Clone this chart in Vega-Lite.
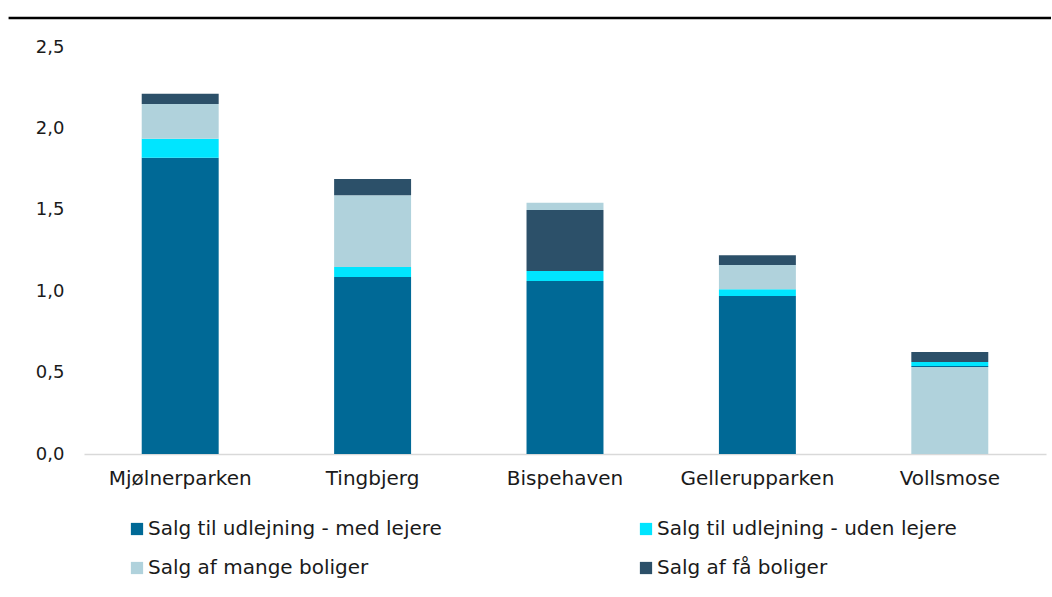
{
  "$schema": "https://vega.github.io/schema/vega-lite/v6.json",
  "padding": {"left": 7, "top": 16, "right": 0, "bottom": 0},
  "background": "white",
  "config": {
    "font": "DejaVu Sans",
    "view": {"stroke": null},
    "axis": {"labelFont": "DejaVu Sans", "labelColor": "#1a1a1a", "labelFontSize": 18, "ticks": false, "grid": false, "title": null}
  },
  "spacing": 18,
  "vconcat": [
    {
      "width": 967,
      "height": 1,
      "data": {"values": [{"k": 1}]},
      "mark": {"type": "rule", "color": "#000000", "strokeWidth": 2.5, "clip": false},
      "encoding": {
        "x": {"datum": -0.078, "type": "quantitative", "scale": {"domain": [0, 1], "nice": false, "zero": false}, "axis": null},
        "x2": {"datum": 1},
        "y": {"datum": 0, "type": "quantitative", "scale": {"domain": [0, 1]}, "axis": null}
      }
    },
    {
      "width": 962,
      "height": 407,
      "data": {"values": [
        {"omraade": "Mjølnerparken", "serie": "Salg til udlejning - med lejere", "vaerdi": 1.82, "rk": 1},
        {"omraade": "Mjølnerparken", "serie": "Salg til udlejning - uden lejere", "vaerdi": 0.117, "rk": 2},
        {"omraade": "Mjølnerparken", "serie": "Salg af mange boliger", "vaerdi": 0.213, "rk": 3},
        {"omraade": "Mjølnerparken", "serie": "Salg af få boliger", "vaerdi": 0.063, "rk": 4},
        {"omraade": "Tingbjerg", "serie": "Salg til udlejning - med lejere", "vaerdi": 1.087, "rk": 1},
        {"omraade": "Tingbjerg", "serie": "Salg til udlejning - uden lejere", "vaerdi": 0.062, "rk": 2},
        {"omraade": "Tingbjerg", "serie": "Salg af mange boliger", "vaerdi": 0.44, "rk": 3},
        {"omraade": "Tingbjerg", "serie": "Salg af få boliger", "vaerdi": 0.1, "rk": 4},
        {"omraade": "Bispehaven", "serie": "Salg til udlejning - med lejere", "vaerdi": 1.063, "rk": 1},
        {"omraade": "Bispehaven", "serie": "Salg til udlejning - uden lejere", "vaerdi": 0.061, "rk": 2},
        {"omraade": "Bispehaven", "serie": "Salg af få boliger", "vaerdi": 0.375, "rk": 3},
        {"omraade": "Bispehaven", "serie": "Salg af mange boliger", "vaerdi": 0.045, "rk": 4},
        {"omraade": "Gellerupparken", "serie": "Salg til udlejning - med lejere", "vaerdi": 0.97, "rk": 1},
        {"omraade": "Gellerupparken", "serie": "Salg til udlejning - uden lejere", "vaerdi": 0.042, "rk": 2},
        {"omraade": "Gellerupparken", "serie": "Salg af mange boliger", "vaerdi": 0.149, "rk": 3},
        {"omraade": "Gellerupparken", "serie": "Salg af få boliger", "vaerdi": 0.06, "rk": 4},
        {"omraade": "Vollsmose", "serie": "Salg af mange boliger", "vaerdi": 0.534, "rk": 1},
        {"omraade": "Vollsmose", "serie": "Salg til udlejning - med lejere", "vaerdi": 0.006, "rk": 2},
        {"omraade": "Vollsmose", "serie": "Salg til udlejning - uden lejere", "vaerdi": 0.025, "rk": 3},
        {"omraade": "Vollsmose", "serie": "Salg af få boliger", "vaerdi": 0.061, "rk": 4}
      ]},
      "mark": {"type": "bar"},
      "encoding": {
        "x": {
          "field": "omraade", "type": "nominal",
          "sort": ["Mjølnerparken", "Tingbjerg", "Bispehaven", "Gellerupparken", "Vollsmose"],
          "scale": {"paddingInner": 0.6, "paddingOuter": 0.3},
          "axis": {"labelAngle": 0, "domain": true, "domainColor": "#d9d9d9", "domainWidth": 1.5, "labelPadding": 14, "labelFontSize": 20}
        },
        "y": {
          "field": "vaerdi", "type": "quantitative", "stack": "zero",
          "scale": {"domain": [0, 2.5], "nice": false},
          "axis": {"values": [0, 0.5, 1, 1.5, 2, 2.5], "format": ".1f", "formatType": "number", "labelExpr": "replace(datum.label, '.', ',')", "domain": false, "labelPadding": 20, "minExtent": 77, "maxExtent": 77}
        },
        "order": {"field": "rk", "type": "quantitative"},
        "color": {
          "field": "serie", "type": "nominal",
          "scale": {
            "domain": ["Salg til udlejning - med lejere", "Salg til udlejning - uden lejere", "Salg af mange boliger", "Salg af få boliger"],
            "range": ["#006996", "#00E5FF", "#B0D2DC", "#2C5069"]
          },
          "legend": {
            "title": null, "orient": "none", "legendX": 43, "legendY": 502, "columns": 2, "direction": "horizontal",
            "symbolType": "square", "symbolSize": 150, "symbolStrokeWidth": 0, "symbolOpacity": 1,
            "labelFontSize": 20, "labelColor": "#1a1a1a", "labelFont": "DejaVu Sans", "labelLimit": 500,
            "columnPadding": 194, "rowPadding": 19, "labelOffset": 1
          }
        }
      }
    }
  ]
}
